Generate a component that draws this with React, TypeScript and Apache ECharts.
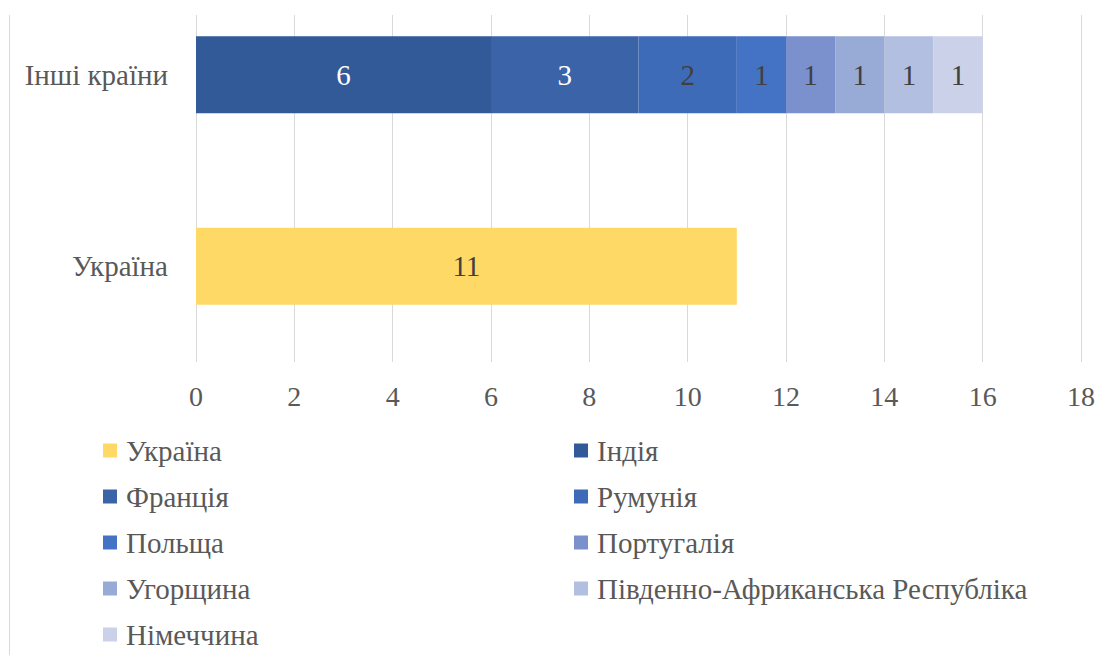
import React, { useEffect, useRef } from "react";
import * as echarts from "echarts";

const categories = ["Україна", "Інші країни"];
const seriesNames = [
  "Україна",
  "Індія",
  "Франція",
  "Румунія",
  "Польща",
  "Португалія",
  "Угорщина",
  "Південно-Африканська Республіка",
  "Німеччина",
];
// values per series: [Україна, Інші країни]
const ukraineValues = [11, null];
const indiaValues = [null, 6];
const franceValues = [null, 3];
const romaniaValues = [null, 2];
const polandValues = [null, 1];
const portugalValues = [null, 1];
const hungaryValues = [null, 1];
const sarValues = [null, 1];
const germanyValues = [null, 1];
const allValues = [
  ukraineValues,
  indiaValues,
  franceValues,
  romaniaValues,
  polandValues,
  portugalValues,
  hungaryValues,
  sarValues,
  germanyValues,
];
const xTicks = [0, 2, 4, 6, 8, 10, 12, 14, 16, 18];

const colors = [
  "#FFD966",
  "#325A99",
  "#3A63A8",
  "#3E6BB8",
  "#4472C4",
  "#7A91CE",
  "#98AAD6",
  "#B3BFE0",
  "#CAD1E8",
];
const labelColors = [
  "#404040",
  "#FFFFFF",
  "#FFFFFF",
  "#404040",
  "#404040",
  "#404040",
  "#404040",
  "#404040",
  "#404040",
];

const FONT = "Liberation Serif";
const OFF = 36; // chart div is shifted up by this many pixels

export default function App() {
  const ref = useRef<HTMLDivElement>(null);
  useEffect(() => {
    if (!ref.current) return;
    const chart = echarts.init(ref.current, undefined, { renderer: "svg" });
    const legendText = {
      fontFamily: FONT,
      fontSize: 29,
      color: "#595959",
      padding: [0, 0, 0, 4],
    };
    const leftCol = [0, 2, 4, 6, 8].map((i) => seriesNames[i]);
    const rightCol = [1, 3, 5, 7].map((i) => seriesNames[i]);
    chart.setOption({
      animation: false,
      backgroundColor: "#ffffff",
      textStyle: { fontFamily: FONT },
      grid: { left: 196, right: 26, top: 15, bottom: 293 },
      xAxis: {
        type: "value",
        min: 0,
        max: 18,
        interval: 2,
        axisLine: { show: false },
        axisTick: { show: false },
        splitLine: { show: true, lineStyle: { color: "#D9D9D9", width: 1 } },
        axisLabel: {
          margin: 20,
          fontFamily: FONT,
          fontSize: 28,
          color: "#595959",
          formatter: (v: number) => (xTicks.includes(v) ? String(v) : ""),
        },
      },
      yAxis: {
        type: "category",
        data: categories,
        axisLine: { show: false },
        axisTick: { show: false },
        axisLabel: {
          margin: 28,
          fontFamily: FONT,
          fontSize: 29,
          color: "#595959",
        },
      },
      legend: [
        {
          data: leftCol,
          orient: "vertical",
          left: 103,
          top: 436 + OFF,
          padding: 0,
          itemWidth: 14,
          itemHeight: 14,
          itemGap: 17,
          icon: "rect",
          textStyle: legendText,
          selectedMode: false,
        },
        {
          data: rightCol,
          orient: "vertical",
          left: 574,
          top: 436 + OFF,
          padding: 0,
          itemWidth: 14,
          itemHeight: 14,
          itemGap: 17,
          icon: "rect",
          textStyle: legendText,
          selectedMode: false,
        },
      ],
      graphic: [
        {
          type: "rect",
          z: 100,
          shape: { x: 0, y: 0, width: 1107, height: 15 + OFF },
          style: { fill: "#ffffff" },
        },
        {
          type: "line",
          z: 101,
          shape: { x1: 9.5, y1: 15 + OFF, x2: 9.5, y2: 655 + OFF },
          style: { stroke: "#D9D9D9", lineWidth: 1 },
        },
      ],
      series: seriesNames.map((name, i) => ({
        name,
        type: "bar",
        stack: "total",
        barWidth: 77,
        data: allValues[i].map((v) => (v === null ? "-" : v)),
        itemStyle: { color: colors[i] },
        label: {
          show: true,
          position: "inside",
          fontFamily: FONT,
          fontSize: 29,
          color: labelColors[i],
          formatter: (p: any) => (p.value === "-" ? "" : String(p.value)),
        },
      })),
    });
    return () => chart.dispose();
  }, []);
  return (
    <div
      ref={ref}
      style={{
        position: "fixed",
        left: 0,
        top: -OFF,
        width: 1107,
        height: 655 + OFF,
      }}
    />
  );
}
